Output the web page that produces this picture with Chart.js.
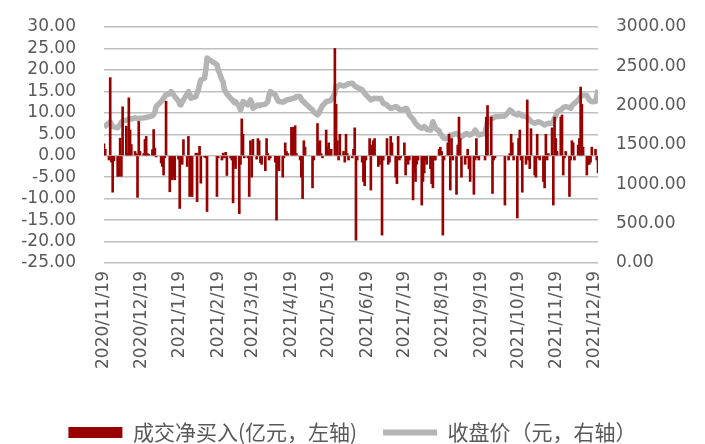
<!DOCTYPE html>
<html>
<head>
<meta charset="utf-8">
<script src="https://cdn.jsdelivr.net/npm/chart.js@4.4.1/dist/chart.umd.min.js"></script>
<style>
  html, body { margin: 0; padding: 0; background: #fff; }
  #wrap { width: 705px; height: 444px; }
</style>
</head>
<body>
<div id="wrap"><canvas id="chart" width="705" height="444"></canvas></div>
<script>
const startDate = "2020-11-19"
const endDate = "2021-12-22"

// A-share market holidays inside the range (weekends are skipped too)
const holidays = [
  "2021-01-01", "2021-02-11", "2021-02-12", "2021-02-15", "2021-02-16", "2021-02-17",
  "2021-04-05", "2021-05-03", "2021-05-04", "2021-05-05", "2021-06-14",
  "2021-09-20", "2021-09-21", "2021-10-01", "2021-10-04", "2021-10-05", "2021-10-06", "2021-10-07",
]

const tickLabels = [
  "2020/11/19", "2020/12/19", "2021/1/19", "2021/2/19", "2021/3/19", "2021/4/19", "2021/5/19",
  "2021/6/19", "2021/7/19", "2021/8/19", "2021/9/19", "2021/10/19", "2021/11/19", "2021/12/19",
]

// 成交净买入 (亿元), one value per trading day
const netBuy = [
  2.8, 1.5, -1, 18.2, -1.5, -8.5, -1.2, -4.8, // 2020-11
  -4.8, 4.1, -4.8, 11.4, 6.9, 0.5, 13.5, 6.0, 2.6, 1.0, 0.5, -9.7, 8.0, 1.0, 0.5, 3.8, 4.5, 0.5, 0.3, 1.4, 6.1, 1.8, -0.3, // 12
  -1.7, -2.5, -4.5, -0.5, 12.7, -8.4, -4.8, -5.6, -4.8, -5.6, -0.8, -12.3, -1, -2, 3.75, -2.5, 4.5, -9.5, -1.2, -9.5, // 2021-01
  0.6, -10.7, 0.6, 2.2, -6.4, -0.3, -0.5, -13, -9.5, -0.5, -1, 0.6, -0.5, 0.8, -4.6, // 02
  -0.5, -1, -11, -2, -3, -13.5, -2, 8.6, 5, -0.5, -0.5, -9.5, 3.5, -5, 3.8, -0.8, 4, 3.5, -1.6, -2, -3.5, 4, 0.5, // 03
  -1, -0.5, -1.5, -15, -3, -3.5, -5, -0.5, 3, 1, 0.5, 6.6, 6.6, 4, 7, 0.5, -1, -5, -10, 3.5, 2, // 04
  -7.5, -1, 7.5, 3, 3.5, 0.5, -0.5, 6, 2, 3, 0.5, 1.5, 25, 12, 3.5, -1, 5, 1, // 05
  -1.5, 5, 0.5, -1, -0.5, 1.5, 6.5, -19.7, -1, -1.5, -6, -7, -1, 4, -8, 2.5, 3.5, 4, -2.5, -2, -0.5, // 06
  -18.5, -1, 4, -2, -1.5, 4.5, 3, -5, -6.5, 4.5, -1, -0.5, 3, -4.5, -0.5, -2, -1, -10.3, -4, -6, -2, -1, // 07
  -11.5, -6, -4, -1, -2, -3, -6.5, -7.5, -1, -1, 1.5, 2, 1, -18.5, -1, 3, 5, -8, 4, -1, -9, 2.5, // 08
  9, 4, -5, -2, -0.5, 1.5, -3, -6, -9, -1, 4, -0.5, -1, -1, 9, 11.7, 9, -8.8, -1, -0.5, // 09
  -11.5, -1, 0.5, 5, 3, -1, -14.5, 4, 6, -1, -8.5, -2, 13, -1, -3, 6.3, // 10
  -4.5, -5, 5, -0.5, -1, -6, -7.5, 5, -1, 0.5, 6.5, -11.5, 9, 4, 1, 9, 9.5, -4.5, -0.5, 1, -9.5, -1, // 11
  3.5, 3, -1, 2.5, 4, 16, 12, 2, -4.5, -2, -2, -1.5, 2, 1.5, -1, -4, // 12
]

// 收盘价 (元)
const closePrice = [
  1730, 1740, 1780, 1795, 1760, 1735, 1730, 1720,
  1740, 1765, 1790, 1805, 1815, 1820, 1830, 1835, 1830, 1845, 1840, 1838, 1835, 1840, 1845, 1848, 1850, 1855, 1858, 1870, 1888, 1920, 1990,
  2050, 2070, 2094, 2120, 2137, 2150, 2180, 2165, 2140, 2116, 2060, 2015, 2009, 2045, 2073, 2150, 2180, 2150, 2094, 2100,
  2116, 2160, 2201, 2270, 2329, 2350, 2450, 2605, 2520, 2456, 2330, 2300, 2200, 2180, 2150,
  2094, 2080, 2060, 2040, 2052, 1990, 1945, 1990, 2052, 2045, 2009, 2040, 2073, 2040, 1967, 2000, 2009, 2000, 2005, 2009, 2020, 2035, 2052,
  2140, 2180, 2137, 2100, 2070, 2052, 2045, 2052, 2060, 2073, 2075, 2085, 2094, 2094, 2100, 2116, 2116, 2080, 2060, 2052, 2030,
  1945, 1920, 1882, 1900, 1940, 1967, 2000, 2052, 2050, 2060, 2065, 2073, 2150, 2243, 2240, 2250, 2265, 2250,
  2255, 2265, 2270, 2280, 2286, 2270, 2250, 2243, 2230, 2201, 2180, 2160, 2137, 2090, 2073, 2080, 2090, 2094, 2090, 2085, 2094,
  2060, 2030, 2009, 1990, 1980, 1967, 1970, 1988, 1985, 1970, 1955, 1945, 1955, 1967, 1960, 1930, 1880, 1830, 1800, 1775, 1760, 1740,
  1711, 1720, 1733, 1720, 1700, 1690, 1740, 1796, 1760, 1711, 1680, 1640, 1626, 1600, 1584, 1584, 1600, 1626, 1620, 1630, 1647, 1640,
  1620, 1610, 1605, 1640, 1647, 1640, 1630, 1626, 1660, 1690, 1670, 1640, 1626, 1647, 1720, 1800, 1839, 1850, 1845, 1860,
  1870, 1920, 1945, 1935, 1924, 1900, 1882, 1903, 1895, 1880, 1870, 1860, 1850, 1835, 1818, 1800,
  1775, 1780, 1790, 1796, 1790, 1765, 1754, 1765, 1770, 1775, 1775, 1800, 1839, 1870, 1920, 1945, 1960, 1975, 1985, 1988, 1975, 1967,
  2000, 2015, 2030, 2070, 2094, 2110, 2125, 2137, 2130, 2100, 2073, 2060, 2050, 2052, 2120, 2201,
]

const DAY = 86400000
function dayNum(s) {
  const [y, m, d] = s.split(/[-\/]/).map(Number)
  return Date.UTC(y, m - 1, d) / DAY
}

// trading days as offsets (in days) from the first date
const day0 = dayNum(startDate)
const tradeDays = []
for (let d = day0; d <= dayNum(endDate); d++) {
  const dt = new Date(d * DAY)
  const wd = dt.getUTCDay()
  if (wd === 0 || wd === 6 || holidays.includes(dt.toISOString().slice(0, 10))) continue
  tradeDays.push(d - day0)
}
if (tradeDays.length !== netBuy.length || tradeDays.length !== closePrice.length) {
  console.error("length mismatch", tradeDays.length, netBuy.length, closePrice.length)
}
const tickPos = tickLabels.map((s) => dayNum(s) - day0)

const gray = "#595959"
const gridColor = "#bfbfbf"
const numFont = { family: "'DejaVu Sans', sans-serif", size: 17 }

// move the legend down a bit (Chart.js adds 10px under it)
const legendShift = {
  id: "legendShift",
  afterInit(chart) {
    const lg = chart.legend
    const fit = lg.fit
    lg.fit = function () {
      fit.call(this)
      this.height -= 9
    }
  },
}

const ctx = document.getElementById("chart").getContext("2d")
new Chart(ctx, {
  type: "bar",
  data: {
    datasets: [
      {
        type: "bar",
        label: "成交净买入(亿元，左轴)",
        data: tradeDays.map((x, i) => ({ x, y: netBuy[i] })),
        backgroundColor: "#990000",
        barThickness: 2,
        yAxisID: "y",
        order: 0,
      },
      {
        type: "line",
        label: "收盘价（元，右轴）",
        data: tradeDays.map((x, i) => ({ x, y: closePrice[i] })),
        borderColor: "#b4b4b4",
        borderWidth: 5.5,
        borderJoinStyle: "round",
        pointRadius: 0,
        tension: 0,
        yAxisID: "y1",
        order: 1,
      },
    ],
  },
  options: {
    responsive: false,
    animation: false,
    layout: { padding: { top: 27, left: 0, right: 0, bottom: 0 } },
    plugins: {
      tooltip: { enabled: false },
      legend: {
        position: "bottom",
        labels: {
          usePointStyle: true,
          pointStyleWidth: 54,
          boxHeight: 11,
          padding: 26,
          color: gray,
          font: { family: "'Noto Sans CJK SC', sans-serif", size: 21 },
          generateLabels: (chart) =>
            chart.data.datasets.map((ds, i) => ({
              text: ds.label,
              datasetIndex: i,
              hidden: false,
              fontColor: gray,
              pointStyle: ds.type === "bar" ? "rect" : "line",
              fillStyle: ds.type === "bar" ? "#990000" : "#b4b4b4",
              strokeStyle: ds.type === "bar" ? "#990000" : "#b4b4b4",
              lineWidth: ds.type === "bar" ? 0 : 6,
            })),
        },
      },
    },
    scales: {
      x: {
        type: "linear",
        min: 0,
        max: 398,
        offset: false,
        grid: { display: false, offset: false },
        border: { display: false },
        afterBuildTicks: (scale) => {
          scale.ticks = tickPos.map((v) => ({ value: v }))
        },
        afterFit: (scale) => {
          scale.height = 133
        },
        ticks: {
          autoSkip: false,
          minRotation: 90,
          maxRotation: 90,
          padding: 0,
          color: gray,
          font: numFont,
          callback: (v) => {
            const i = tickPos.indexOf(v)
            return i >= 0 ? tickLabels[i] : ""
          },
        },
      },
      y: {
        position: "left",
        min: -25,
        max: 30,
        // tickLength pushes the labels away from the plot; tick marks themselves are invisible
        grid: { color: gridColor, lineWidth: 1.5, drawTicks: true, tickLength: 20, tickWidth: 0 },
        border: { display: false },
        afterFit: (scale) => {
          scale.width = 104
        },
        ticks: {
          autoSkip: false,
          stepSize: 5,
          padding: 8,
          color: gray,
          font: numFont,
          callback: (v) => v.toFixed(2),
        },
      },
      y1: {
        position: "right",
        min: 0,
        max: 3000,
        grid: { display: false, drawTicks: true, tickLength: 10, tickWidth: 0 },
        border: { display: false },
        afterFit: (scale) => {
          scale.width = 107
        },
        ticks: {
          autoSkip: false,
          stepSize: 500,
          padding: 8,
          color: gray,
          font: numFont,
          callback: (v) => v.toFixed(2),
        },
      },
    },
  },
  plugins: [legendShift],
})
</script>
</body>
</html>
